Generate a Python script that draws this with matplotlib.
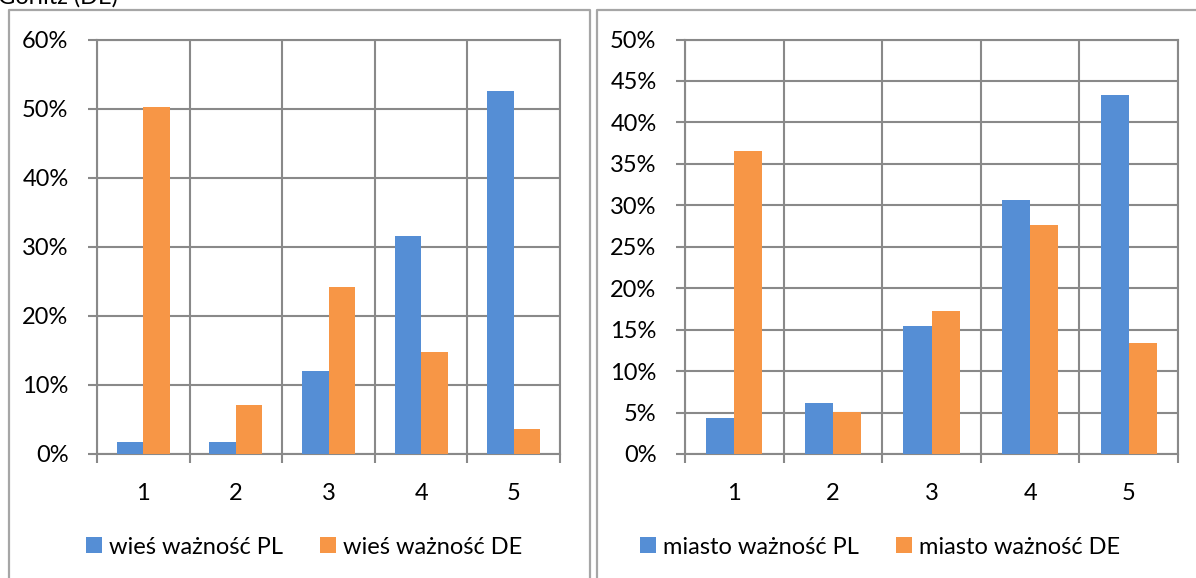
import matplotlib.pyplot as plt
import matplotlib.ticker as mticker
from matplotlib.lines import Line2D
import numpy as np

# categories (importance level 1..5)
categories = [1, 2, 3, 4, 5]

# village (wieś) shares
wies_pl = [0.018, 0.018, 0.120, 0.316, 0.525]
wies_de = [0.502, 0.071, 0.242, 0.147, 0.036]

# city (miasto) shares
miasto_pl = [0.044, 0.061, 0.154, 0.306, 0.433]
miasto_de = [0.365, 0.051, 0.172, 0.276, 0.134]

BLUE = "#558ed5"
ORANGE = "#f79646"
GRID = "#898989"
FRAME = "#a6a6a6"
W, H = 1196, 578

plt.rcParams["font.family"] = ["Lato", "DejaVu Sans"]
plt.rcParams["font.size"] = 17

fig = plt.figure(figsize=(W / 100, H / 100), dpi=100)


# helper: axes rectangle from pixel box
def px_axes(x0, y0, x1, y1):
    return fig.add_axes([x0 / W, 1 - y1 / H, (x1 - x0) / W, (y1 - y0) / H])


def draw_panel(ax, pl, de, ymax, step, labels):
    x = np.array(categories)
    bw = 0.286
    ax.bar(x - bw / 2, pl, bw, color=BLUE, label=labels[0], zorder=3)
    ax.bar(x + bw / 2, de, bw, color=ORANGE, label=labels[1], zorder=3)
    ax.set_xlim(0.5, 5.5)
    ax.set_ylim(0, ymax)
    ax.set_yticks(np.arange(0, ymax + step / 2, step))
    ax.yaxis.set_major_formatter(mticker.PercentFormatter(1.0, decimals=0))
    ax.set_xticks(x)
    ax.set_xticks(np.arange(0.5, 6, 1), minor=True)
    ax.tick_params(axis="x", which="major", length=0, pad=21)
    ax.tick_params(axis="x", which="minor", length=6.5, width=1.5, color=GRID)
    ax.tick_params(axis="y", length=6.5, width=1.5, color=GRID, pad=14)
    ax.grid(True, axis="y", color=GRID, linewidth=1.5, zorder=0)
    ax.grid(True, axis="x", which="minor", color=GRID, linewidth=1.5, zorder=0)
    for s in ax.spines.values():
        s.set_color(GRID)
        s.set_linewidth(1.5)
    ax.set_axisbelow(True)
    handles, lbls = ax.get_legend_handles_labels()
    return handles, lbls


ax1 = px_axes(97, 39.5, 560, 454)
h1, l1 = draw_panel(ax1, wies_pl, wies_de, 0.6, 0.1,
                    ["wieś ważność PL", "wieś ważność DE"])
ax2 = px_axes(685, 39.5, 1178, 454)
h2, l2 = draw_panel(ax2, miasto_pl, miasto_de, 0.5, 0.05,
                    ["miasto ważność PL", "miasto ważność DE"])

leg_kw = dict(ncol=2, frameon=False, handlelength=0.68, handleheight=0.68,
              handletextpad=0.3, columnspacing=1.55, borderaxespad=0,
              loc="center")
fig.legend(h1, l1, bbox_to_anchor=(304 / W, 1 - 547 / H), **leg_kw)
fig.legend(h2, l2, bbox_to_anchor=(880 / W, 1 - 547 / H), **leg_kw)


# panel frames
def frame(x0, x1, y0=10, y1=H + 20):
    xs = [x0 / W, x0 / W, x1 / W, x1 / W]
    ys = [1 - y1 / H, 1 - y0 / H, 1 - y0 / H, 1 - y1 / H]
    fig.add_artist(Line2D(xs, ys, color=FRAME, linewidth=1.6))


frame(8.5, 589.5)
frame(597, W + 30)

# chart title, mostly cut off at the top edge (as in the source image)
fig.text(-2 / W, 1 - 4 / H, "Görlitz (DE)", ha="left", va="baseline")

fig.savefig("out.png", dpi=100)
